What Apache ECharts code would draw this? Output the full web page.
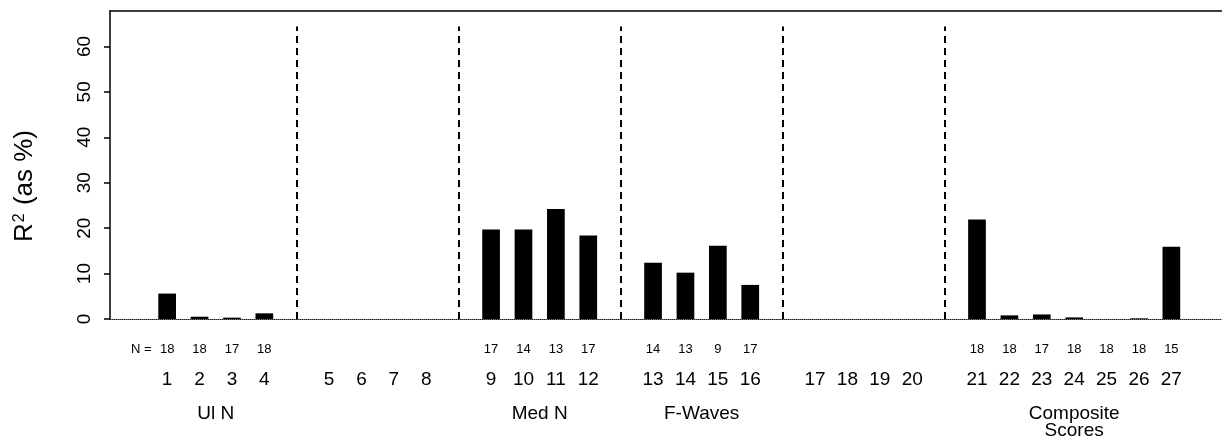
<!DOCTYPE html>
<html>
<head>
<meta charset="utf-8">
<script src="https://cdn.jsdelivr.net/npm/echarts@6/dist/echarts.min.js"></script>
<style>
html,body{margin:0;padding:0;background:#fff;}
#c{width:1222px;height:440px;}
</style>
</head>
<body>
<div id="c"></div>
<script>
// ---- data ----
const categories = ['1','2','3','4','5','6','7','8','9','10','11','12','13','14','15','16','17','18','19','20','21','22','23','24','25','26','27'];
const values = [5.6, 0.5, 0.3, 1.25, null, null, null, null, 19.7, 19.7, 24.2, 18.4, 12.4, 10.2, 16.1, 7.5, null, null, null, null, 21.9, 0.8, 1.0, 0.35, 0, 0.15, 15.9];
const nLabels = ['18','18','17','18','','','','','17','14','13','17','14','13','9','17','','','','','18','18','17','18','18','18','15'];
const groupSizes = [4, 4, 4, 4, 4, 7];
const groupNames = ['Ul N', '', 'Med N', 'F-Waves', '', 'Composite\nScores'];
const yTicks = [0, 10, 20, 30, 40, 50, 60];
const dividerTop = 64.4;

// ---- layout derived from groups (one empty slot between groups) ----
const slots = [];
const groupCenters = [];
const dividers = [];
let s = 1;
groupSizes.forEach((n, g) => {
  const first = s;
  for (let i = 0; i < n; i++) { slots.push(s); s++; }
  groupCenters.push((first + s - 1) / 2);
  if (g < groupSizes.length - 1) { dividers.push(s); s++; }
});
const XMIN = -0.764, XMAX = 33.563;
const slotToCat = {}; const slotToN = {};
slots.forEach((v, i) => { slotToCat[v] = categories[i]; slotToN[v] = nLabels[i]; });
const nPos = slots.filter((v, i) => nLabels[i] !== '');
const NEQ_POS = 0.2;
const gPos = groupCenters.filter((v, i) => groupNames[i] !== '');
const gName = {}; groupCenters.forEach((v, i) => { gName[v] = groupNames[i]; });

const FONT = '"Liberation Sans", Arial, Helvetica, sans-serif';
const gridBox = {left: 110, right: 0, top: 11, bottom: 121};

const chart = echarts.init(document.getElementById('c'), null, {renderer: 'canvas'});
const barData = slots.map((v, i) => [v, values[i]]).filter(d => d[1] !== null);

chart.setOption({
  animation: false,
  textStyle: {fontFamily: FONT, color: '#000'},
  grid: [Object.assign({}, gridBox), Object.assign({}, gridBox), Object.assign({}, gridBox)],
  xAxis: [
    {
      type: 'value', gridIndex: 0, min: XMIN, max: XMAX, position: 'bottom',
      axisLine: {show: true, onZero: false, lineStyle: {color: '#222', width: 1, type: [1, 1]}},
      axisTick: {show: false}, splitLine: {show: false},
      axisLabel: {
        customValues: slots, margin: 51, fontSize: 19, color: '#000', fontFamily: FONT,
        formatter: v => slotToCat[Math.round(v)] || ''
      }
    },
    {
      type: 'value', gridIndex: 0, min: XMIN, max: XMAX, position: 'top',
      axisLine: {show: true, onZero: false, lineStyle: {color: '#000', width: 1.5}},
      axisTick: {show: false}, splitLine: {show: false}, axisLabel: {show: false}
    },
    {
      type: 'value', gridIndex: 1, min: XMIN, max: XMAX, position: 'bottom',
      axisLine: {show: false}, axisTick: {show: false}, splitLine: {show: false},
      axisLabel: {
        customValues: [NEQ_POS].concat(nPos), margin: 24, fontSize: 13, color: '#000', fontFamily: FONT,
        formatter: v => (Math.abs(v - NEQ_POS) < 1e-6 ? 'N =' : (slotToN[Math.round(v)] || ''))
      }
    },
    {
      type: 'value', gridIndex: 2, min: XMIN, max: XMAX, position: 'bottom',
      axisLine: {show: false}, axisTick: {show: false}, splitLine: {show: false},
      axisLabel: {
        customValues: gPos, margin: 86, fontSize: 19, lineHeight: 17, color: '#000', fontFamily: FONT,
        formatter: v => gName[v] || ''
      }
    }
  ],
  yAxis: [
    {
      type: 'value', gridIndex: 0, min: 0, max: 67.8,
      axisLine: {show: true, onZero: false, lineStyle: {color: '#000', width: 1.5}},
      axisTick: {show: true, length: 6, customValues: yTicks, lineStyle: {color: '#000', width: 1.5}},
      splitLine: {show: false},
      axisLabel: {customValues: yTicks, rotate: 90, margin: 16, fontSize: 19, color: '#000', fontFamily: FONT},
      name: '{a|R}{b|2}{a| (as %)}',
      nameLocation: 'middle', nameGap: 72, nameRotate: 90,
      nameTextStyle: {
        padding: [0, 42, 0, 0],
        rich: {
          a: {fontSize: 26, fontFamily: FONT, color: '#000'},
          b: {fontSize: 16, fontFamily: FONT, color: '#000', verticalAlign: 'top', padding: [0, 1, 0, 1]}
        }
      }
    },
    {type: 'value', gridIndex: 1, min: 0, max: 1, show: false},
    {type: 'value', gridIndex: 2, min: 0, max: 1, show: false}
  ],
  series: [
    {
      type: 'bar', xAxisIndex: 0, yAxisIndex: 0,
      data: barData, barWidth: 17.7,
      itemStyle: {color: '#000'},
      markLine: {
        silent: true, symbol: 'none', label: {show: false},
        lineStyle: {color: '#000', width: 2, type: [7, 5]},
        data: dividers.map(d => [{coord: [d, 0]}, {coord: [d, dividerTop]}])
      }
    }
  ]
});
</script>
</body>
</html>
